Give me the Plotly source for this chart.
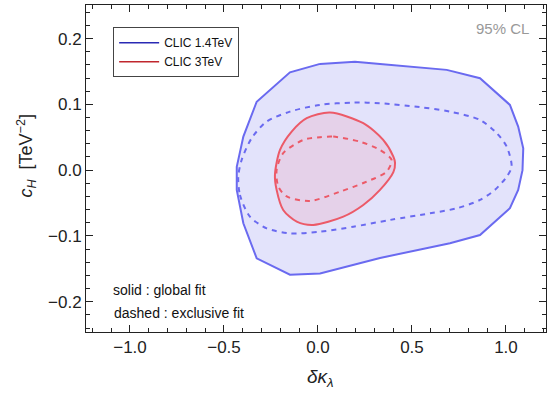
import plotly.graph_objects as go

# CLIC 1.4 TeV, global fit (solid)
b14_global_x = [0.011, 0.197, 0.330, 0.685, 0.862, 1.021, 1.065, 1.092, 1.088, 1.065, 1.021, 0.862, 0.702,
                0.330, 0.011, -0.149, -0.326, -0.397, -0.432, -0.432, -0.397, -0.326, -0.149, 0.011]
b14_global_y = [0.1615, 0.1646, 0.1615, 0.1524, 0.1397, 0.0992, 0.0662, 0.0333, 0.000, -0.030, -0.0579,
                -0.0986, -0.111, -0.1335, -0.157, -0.159, -0.134, -0.0808, -0.030, 0.005, 0.051, 0.104, 0.1487, 0.1615]
# CLIC 1.4 TeV, exclusive fit (dashed)
b14_excl_x = [-0.424, -0.415, -0.362, -0.273, -0.149, 0.011, 0.188, 0.383, 0.596, 0.738, 0.862, 0.941, 1.004,
              1.030, 1.004, 0.951, 0.862, 0.702, 0.543, 0.330, 0.188, 0.011, -0.149, -0.273, -0.353, -0.406, -0.424]
b14_excl_y = [-0.010, -0.0377, -0.0707, -0.0884, -0.096, -0.0935, -0.086, -0.0757, -0.0656, -0.058, -0.0453,
              -0.030, -0.010, 0.0053, 0.0357, 0.0561, 0.0763, 0.089, 0.0957, 0.1017, 0.1027, 0.0992, 0.089,
              0.0738, 0.0485, 0.0155, -0.010]
# CLIC 3 TeV, global fit (solid)
c3_global_x = [0.064, 0.241, 0.347, 0.401, 0.410, 0.401, 0.330, 0.241, 0.135, -0.025, -0.113, -0.185,
               -0.220, -0.229, -0.202, -0.140, -0.060, 0.064]
c3_global_y = [0.0875, 0.0713, 0.0459, 0.0205, 0.011, -0.003, -0.030, -0.053, -0.0707, -0.0833, -0.0783,
               -0.0605, -0.030, -0.0073, 0.0307, 0.0586, 0.079, 0.0875]
# CLIC 3 TeV, exclusive fit (dashed)
c3_excl_x = [0.011, 0.081, 0.223, 0.330, 0.392, 0.365, 0.259, 0.117, -0.043, -0.166, -0.211, -0.220,
             -0.185, -0.078, 0.011]
c3_excl_y = [0.050, 0.051, 0.0433, 0.0307, 0.0155, -0.0023, -0.0175, -0.0327, -0.0468, -0.040, -0.025,
             0.0003, 0.0257, 0.046, 0.050]

x_ticks = [-1.0, -0.5, 0.0, 0.5, 1.0]
x_tick_labels = ["\u22121.0", "\u22120.5", "0.0", "0.5", "1.0"]
y_ticks = [-0.2, -0.1, 0.0, 0.1, 0.2]
y_tick_labels = ["\u22120.2", "\u22120.1", "0.0", "0.1", "0.2"]
legend_names = ["CLIC 1.4TeV", "CLIC 3TeV"]

BLUE = "#6a6af0"
RED = "#ec5a68"
FONT = "Liberation Sans, Arial, sans-serif"

fig = go.Figure()
fig.add_trace(go.Scatter(x=b14_global_x, y=b14_global_y, mode="lines", fill="toself",
                         fillcolor="rgba(90,90,230,0.17)", line=dict(color=BLUE, width=2),
                         showlegend=False, hoverinfo="skip"))
fig.add_trace(go.Scatter(x=b14_excl_x, y=b14_excl_y, mode="lines",
                         line=dict(color=BLUE, width=2, dash="5px,5px", shape="spline", smoothing=0.8),
                         showlegend=False, hoverinfo="skip"))
fig.add_trace(go.Scatter(x=c3_global_x, y=c3_global_y, mode="lines", fill="toself",
                         fillcolor="rgba(255,60,80,0.10)",
                         line=dict(color=RED, width=2, shape="spline", smoothing=0.8),
                         showlegend=False, hoverinfo="skip"))
fig.add_trace(go.Scatter(x=c3_excl_x, y=c3_excl_y, mode="lines",
                         line=dict(color=RED, width=2, dash="5px,5px", shape="spline", smoothing=0.8),
                         showlegend=False, hoverinfo="skip"))
# legend entries
fig.add_trace(go.Scatter(x=[None], y=[None], mode="lines", name=legend_names[0],
                         line=dict(color="#2a2ab4", width=1.6)))
fig.add_trace(go.Scatter(x=[None], y=[None], mode="lines", name=legend_names[1],
                         line=dict(color="#c0262d", width=1.6)))

axis_common = dict(showline=True, linecolor="#222", linewidth=1, mirror="ticks", ticks="inside",
                   ticklen=7, tickcolor="#222", showgrid=False, zeroline=False, automargin=False,
                   tickfont=dict(family=FONT, size=17, color="#222"))
fig.update_xaxes(range=[-1.234, 1.213], tickvals=x_ticks, ticktext=x_tick_labels,
                 minor=dict(dtick=0.1, ticks="inside", ticklen=4, tickcolor="#222"),
                 **axis_common)
fig.update_yaxes(range=[-0.246, 0.251], tickvals=y_ticks, ticktext=y_tick_labels,
                 minor=dict(dtick=0.02, ticks="inside", ticklen=4, tickcolor="#222"),
                 **axis_common)

fig.add_annotation(xref="paper", yref="paper", x=0.509, y=-0.141, xanchor="center", yanchor="middle",
                   text="<i>δκ</i><sub><i>λ</i></sub>", showarrow=False,
                   font=dict(family=FONT, size=19, color="#222"))
fig.add_annotation(xref="paper", yref="paper", x=-0.130, y=0.54, xanchor="center", yanchor="middle",
                   textangle=-90, text="<i>c</i><sub><i>H</i></sub>  [TeV<sup>−2</sup>]", showarrow=False,
                   font=dict(family=FONT, size=18, color="#222"))
fig.add_annotation(xref="paper", yref="paper", x=0.967, y=0.927, xanchor="right", yanchor="middle",
                   text="95% CL", showarrow=False, font=dict(family=FONT, size=15, color="#999"))
fig.add_annotation(xref="paper", yref="paper", x=0.054, y=0.128, xanchor="left", yanchor="middle",
                   text="solid : global fit", showarrow=False, font=dict(family=FONT, size=14, color="#111"))
fig.add_annotation(xref="paper", yref="paper", x=0.057, y=0.058, xanchor="left", yanchor="middle",
                   text="dashed : exclusive fit", showarrow=False, font=dict(family=FONT, size=14, color="#111"))

fig.update_layout(
    width=547, height=394,
    margin=dict(l=86, r=1, t=5, b=62, autoexpand=False),
    paper_bgcolor="white", plot_bgcolor="white",
    showlegend=True,
    legend=dict(x=0.059, y=0.932, xanchor="left", yanchor="top",
                bordercolor="#444", borderwidth=1, bgcolor="white",
                font=dict(family=FONT, size=12, color="#111"),
                itemwidth=40, tracegroupgap=2),
)

fig.write_html("out.html", config={"displayModeBar": False},
               post_script="document.body.style.margin='0';document.body.style.overflow='hidden';")
